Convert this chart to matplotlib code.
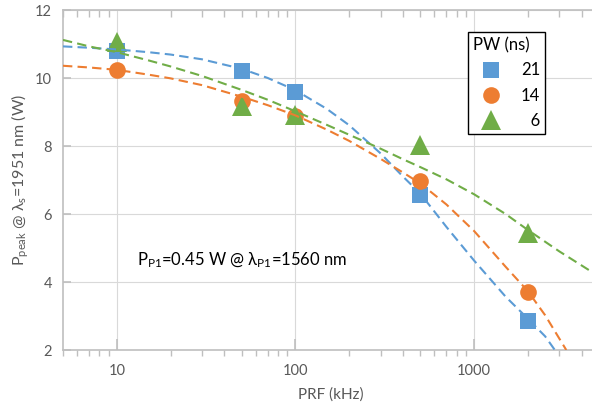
import matplotlib
matplotlib.use("Agg")
from matplotlib import pyplot as plt
from matplotlib.ticker import LogLocator, NullFormatter, FixedLocator

plt.rcParams["font.family"] = ["Lato", "DejaVu Sans"]
plt.rcParams["mathtext.fontset"] = "custom"
plt.rcParams["mathtext.rm"] = "Lato"
plt.rcParams["mathtext.it"] = "Lato:italic"

# Measured points (PRF in kHz, peak power in W)
prf = [10, 50, 100, 500, 2000]
p_21ns = [10.8, 10.22, 9.58, 6.56, 2.85]
p_14ns = [10.24, 9.32, 8.87, 6.97, 3.71]
p_6ns = [11.05, 9.18, 8.9, 8.04, 5.43]

# Dashed trend curves
fit_x = [5, 7, 10, 15, 20, 30, 50, 70, 100, 150, 200, 300, 400, 500, 700, 1000, 1500, 2000]
fit21_y = [10.93, 10.89, 10.84, 10.76, 10.69, 10.55, 10.27, 10.0, 9.64, 9.09, 8.61,
           7.78, 7.1, 6.6, 5.62, 4.63, 3.57, 2.92]
fit14_y = [10.36, 10.31, 10.24, 10.1, 9.99, 9.79, 9.45, 9.2, 8.9, 8.48, 8.15,
           7.62, 7.22, 6.9, 6.28, 5.5, 4.45, 3.73]
fit6_y = [11.12, 10.93, 10.76, 10.52, 10.34, 10.06, 9.65, 9.36, 9.02, 8.62, 8.33,
          7.92, 7.61, 7.38, 7.02, 6.58, 6.0, 5.53]
# tails past the last common x
tail21_x = [2500, 2830]
tail21_y = [2.4, 2.0]
tail14_x = [2500, 3280]
tail14_y = [3.02, 2.0]
tail6_x = [3000, 4550, 5000]
tail6_y = [4.9, 4.3, 4.17]

labels = ["21", "14", "\u20076"]
colors = ["#5B9BD5", "#ED7D31", "#70AD47"]
markers = ["s", "o", "^"]
msizes = [11, 12, 14]

gray = "#595959"
spine = "#BFBFBF"
grid = "#D9D9D9"

fig = plt.figure(figsize=(5.92, 4.05), dpi=100)
ax = fig.add_axes([0.1064, 0.1358, 0.9054, 0.8395])

series = [
    (p_21ns, fit21_y, tail21_x, tail21_y),
    (p_14ns, fit14_y, tail14_x, tail14_y),
    (p_6ns, fit6_y, tail6_x, tail6_y),
]
for (vals, fy, tx, ty), lab, c, m, ms in zip(series, labels, colors, markers, msizes):
    ax.plot(prf, vals, linestyle="none", marker=m, markersize=ms, color=c,
            markeredgewidth=0, label=lab, zorder=3)
    ax.plot(fit_x + tx, fy + ty, color=c, linewidth=1.5, dashes=(4.5, 2.5), zorder=4)

ax.set_xscale("log")
ax.set_xlim(5, 5000)
ax.set_ylim(2, 12)
ax.set_yticks([2, 4, 6, 8, 10, 12])
ax.xaxis.set_major_locator(FixedLocator([10, 100, 1000]))
ax.set_xticklabels(["10", "100", "1000"])
ax.xaxis.set_minor_locator(LogLocator(base=10, subs=range(2, 10)))
ax.xaxis.set_minor_formatter(NullFormatter())

ax.grid(True, which="major", color=grid, linewidth=0.8, zorder=0)
ax.set_axisbelow(True)
for s in ["top", "bottom", "left", "right"]:
    ax.spines[s].set_color(spine)
    ax.spines[s].set_linewidth(1.2)

ax.tick_params(axis="x", which="major", direction="in", length=8, color=spine,
               width=1.2, labelsize=10.5, labelcolor=gray, pad=10)
ax.tick_params(axis="x", which="minor", direction="out", length=4, color=spine, width=1)
ax.tick_params(axis="y", which="major", direction="in", length=6, color=spine,
               width=1.2, labelsize=10.5, labelcolor=gray, pad=8)

top = ax.secondary_xaxis("top")
top.xaxis.set_major_locator(FixedLocator([10, 100, 1000]))
top.xaxis.set_minor_locator(LogLocator(base=10, subs=range(2, 10)))
top.xaxis.set_minor_formatter(NullFormatter())
top.tick_params(which="major", length=0, labeltop=False)
top.tick_params(which="minor", direction="in", length=5, color=spine, width=1)
top.spines["top"].set_visible(False)

ax.set_xlabel("PRF (kHz)", fontsize=11, color=gray, labelpad=7)
ax.set_ylabel(r"P$_{\mathrm{peak}}$ @ λ$_{\mathrm{s}}$=1951 nm (W)", fontsize=11.5,
              color=gray, labelpad=3)

ax.text(13, 4.5, r"P$_{\mathrm{P1}}$=0.45 W @ λ$_{\mathrm{P1}}$=1560 nm",
        fontsize=12, color="black", va="baseline", ha="left")

leg = ax.legend(title="PW (ns)", loc="upper left", bbox_to_anchor=(0.755, 0.935),
                borderaxespad=0, fontsize=12, title_fontsize=12, frameon=True,
                fancybox=False, edgecolor="black", framealpha=1, alignment="left",
                labelspacing=0.55, handletextpad=0.7, borderpad=0.3,
                handlelength=2.2)
leg.get_frame().set_linewidth(1)

fig.savefig("out.png", dpi=100)
